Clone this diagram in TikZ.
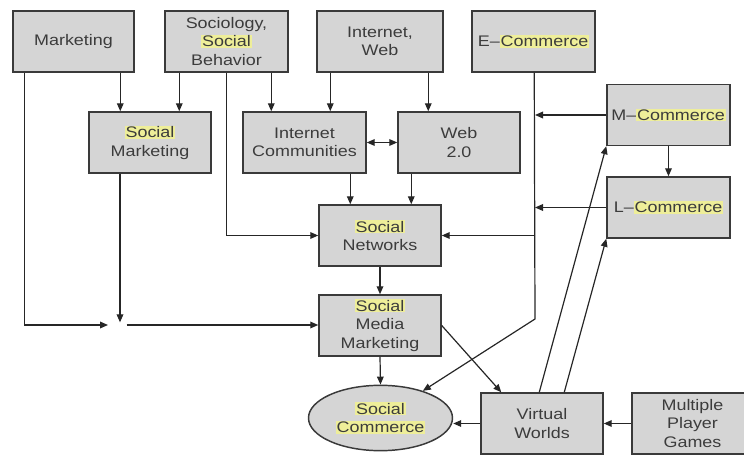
\documentclass[tikz,border=0pt]{standalone}
\usepackage{fontspec}
\setmainfont{Liberation Sans}[FakeStretch=1.17]
\usetikzlibrary{arrows.meta,calc,shapes.geometric}
\definecolor{boxfill}{HTML}{D5D5D5}
\definecolor{boxline}{HTML}{3A3A3A}
\definecolor{txt}{HTML}{3C3C3C}
\definecolor{hly}{HTML}{EEEE99}
\newcommand\hl[1]{{\setlength\fboxsep{0.6pt}\colorbox{hly}{#1}}}
\tikzset{
  box/.style={draw=boxline, fill=boxfill, line width=1.1pt, rectangle,
    minimum width=91.5pt, minimum height=45.75pt, inner sep=0pt,
    align=center, text=txt, font=\fontsize{11.5}{13.9}\selectfont},
  oval/.style={box, ellipse, minimum width=108pt, minimum height=49pt},
  tip/.tip={Triangle[length=6pt,width=5pt]},
  arr/.style={-tip, line width=0.9pt, draw=black!85},
  dblarr/.style={tip-tip, line width=0.9pt, draw=black!85}
}
\begin{document}
\begin{tikzpicture}[x=0.75pt,y=-0.75pt]
\useasboundingbox (0,0) rectangle (744,456);
% nodes
\node[box, minimum width=90.75pt] (mkt) at (73.5,41.5) {Marketing};
\node[box, minimum width=92.25pt] (soc) at (226.5,41.5) {Sociology,\\\hl{Social}\\Behavior};
\node[box, minimum width=94.5pt] (iw) at (380,41.5) {Internet,\\Web};
\node[box, minimum width=92.25pt] (ec) at (533.5,41.5) {E--\hl{Commerce}};
\node[box] (smk) at (150,142.5) {\hl{Social}\\Marketing};
\node[box, minimum width=92.25pt] (ic) at (304.5,142.5) {Internet\\Communities};
\node[box] (w20) at (459,142.5) {Web\\2.0};
\node[box, minimum width=92.25pt] (mc) at (668.5,115) {M--\hl{Commerce}};
\node[box, minimum width=92.25pt] (lc) at (668.5,207.5) {L--\hl{Commerce}};
\node[box] (sn) at (380,235.5) {\hl{Social}\\Networks};
\node[box] (smm) at (380,325.5) {\hl{Social}\\Media\\Marketing};
\node[oval] (sc) at (380.5,418) {\hl{Social}\\\hl{Commerce}};
\node[box] (vw) at (542,423.5) {Virtual\\Worlds};
\node[box, minimum width=90.75pt] (mpg) at (692.5,423.5) {Multiple\\Player\\Games};
% coordinates
\coordinate (J) at (120,325);
\coordinate (K) at (535,319);
% connectors
\draw[arr, shorten >=9pt] ($(mkt.south west)+(12,0)$) |- (J);
\draw[arr, shorten >=2pt] (smk.south west -| J) -- (J);
\draw[arr, shorten <=5pt] (J) -- (J -| smm.west);
\draw[arr] ($(mkt.south west)+(108,0)$) -- ($(smk.north west)+(32,0)$);
\draw[arr] ($(soc.south west)+(15,0)$) -- ($(smk.north west)+(91,0)$);
\draw[arr] (soc.south) |- (sn.west);
\draw[arr] ($(soc.south west)+(107,0)$) -- ($(ic.north west)+(29,0)$);
\draw[arr] ($(iw.south west)+(14,0)$) -- ($(ic.north west)+(88,0)$);
\draw[arr] ($(iw.south west)+(112,0)$) -- ($(w20.north west)+(31,0)$);
\draw[dblarr] (ic.east) -- (w20.west);
\draw[arr] ($(ic.south west)+(108,0)$) -- ($(sn.north west)+(32,0)$);
\draw[arr] ($(w20.south west)+(14,0)$) -- ($(sn.north west)+(93,0)$);
\draw[arr] ($(ec.south west)+(63,0)$) -- (K) -- (sc);
\draw[arr] (mc.west) -- (mc.west -| K);
\draw[arr] (lc.west) -- (lc.west -| K);
\draw[arr] (sn.east -| K) -- (sn.east);
\draw[arr] (mc.south) -- (lc.north);
\draw[arr] (sn.south) -- (smm.north);
\draw[arr] (smm.south) -- (sc.north);
\draw[arr] (smm.east) -- ($(vw.north west)+(21,0)$);
\draw[arr] (vw.west) -- (vw.west -| sc.east);
\draw[arr] (mpg.west) -- (vw.east);
\draw[arr] ($(vw.north west)+(59,0)$) -- (mc.south west);
\draw[arr] ($(vw.north west)+(84,0)$) -- (lc.south west);
\end{tikzpicture}
\end{document}
